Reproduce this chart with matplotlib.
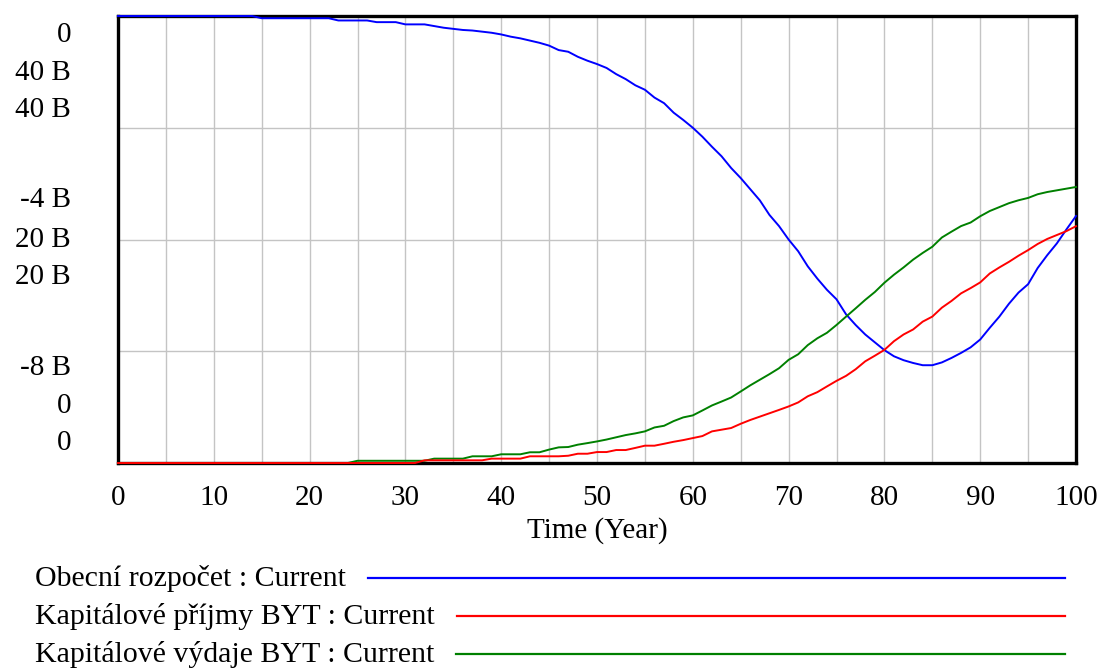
import matplotlib
matplotlib.use("Agg")
import matplotlib.pyplot as plt
from matplotlib.lines import Line2D
import numpy as np

plt.rcParams["font.family"] = ["Liberation Serif", "DejaVu Serif"]

# Simulation years
years = list(range(0, 101))

# Obecní rozpočet (billions)
budget = ([0.0] * 15 + [-0.04] * 8 + [-0.08] * 4 + [-0.11] * 3 + [-0.15] * 3 + [
    -0.18, -0.21, -0.23, -0.25, -0.26, -0.28, -0.30, -0.33, -0.37, -0.40,
    -0.44, -0.48, -0.53, -0.61, -0.64, -0.73, -0.80, -0.86, -0.93, -1.04,
    -1.13, -1.24, -1.32, -1.46, -1.56, -1.73, -1.86, -2.00, -2.16, -2.34,
    -2.51, -2.72, -2.90, -3.10, -3.30, -3.56, -3.76, -4.00, -4.21, -4.48,
    -4.70, -4.90, -5.07, -5.34, -5.53, -5.70, -5.84, -5.98, -6.09, -6.16,
    -6.21, -6.25, -6.25, -6.20, -6.12, -6.03, -5.93, -5.79, -5.58, -5.38,
    -5.15, -4.95, -4.80, -4.51, -4.28, -4.07, -3.82, -3.58])

# Kapitálové příjmy BYT (billions)
income = ([0.0] * 32 + [0.24] * 7 + [0.39] * 4 + [0.6] * 4 + [
    0.65, 0.83, 0.83, 0.98, 0.98, 1.16, 1.16, 1.35, 1.55, 1.55,
    1.72, 1.90, 2.05, 2.23, 2.41, 2.83, 2.98, 3.13, 3.51, 3.85,
    4.15, 4.45, 4.75, 5.06, 5.42, 5.97, 6.34, 6.85, 7.35, 7.80,
    8.39, 9.10, 9.60, 10.12, 10.90, 11.50, 11.95, 12.65, 13.10, 13.90,
    14.50, 15.18, 15.65, 16.16, 16.96, 17.50, 18.00, 18.55, 19.05, 19.60,
    20.05, 20.40, 20.75, 21.19])

# Kapitálové výdaje BYT (billions)
expenses = ([0.0] * 25 + [0.2] * 8 + [0.39] * 4 + [0.6] * 3 + [0.78] * 3 + [0.96] * 2 + [
    1.20, 1.40, 1.43, 1.64, 1.78, 1.93, 2.10, 2.30, 2.50, 2.65,
    2.83, 3.18, 3.33, 3.75, 4.08, 4.26, 4.70, 5.15, 5.50, 5.86,
    6.40, 6.95, 7.45, 7.95, 8.48, 9.23, 9.73, 10.55, 11.16, 11.65,
    12.35, 13.10, 13.84, 14.60, 15.30, 16.13, 16.85, 17.50, 18.20, 18.80,
    19.35, 20.18, 20.70, 21.20, 21.52, 22.08, 22.55, 22.90, 23.25, 23.51,
    23.72, 24.05, 24.25, 24.40, 24.55, 24.70])

# Stacked Vensim-style axis labels (top, middle, bottom)
scale_labels = [["0", "40 B", "40 B"], ["-4 B", "20 B", "20 B"], ["-8 B", "0", "0"]]
x_ticks = list(range(0, 101, 10))
series_names = ["Obecní rozpočet : Current",
                "Kapitálové příjmy BYT : Current",
                "Kapitálové výdaje BYT : Current"]
colors = ["#0000ff", "#ff0000", "#008000"]

W, H = 1102, 670
fig = plt.figure(figsize=(W / 100, H / 100), dpi=100)
ax = fig.add_axes([118 / W, 1 - 463 / H, (1076 - 118) / W, (463 - 16) / H])
ax2 = ax.twinx()

ax.plot(years, budget, color=colors[0], lw=1.4, zorder=3, clip_on=False)
# green first so the red line sits on top along the zero line
ax2.plot(years, expenses, color=colors[2], lw=1.4, zorder=3, clip_on=False)
ax2.plot(years, income, color=colors[1], lw=1.4, zorder=3, clip_on=False)

ax.set_xlim(0, 100)
ax.set_ylim(-8, 0)
ax2.set_ylim(0, 40)

ax.set_xticks(np.arange(0, 101, 5), minor=True)
ax.set_xticks(x_ticks)
ax.set_xticklabels([str(t) for t in x_ticks], fontsize=21)
ax.set_yticks([-8, -6, -4, -2, 0])
ax.set_yticklabels([])
ax.grid(True, which="both", color="#c4c4c4", lw=1)
ax.tick_params(axis="both", which="both", length=0)
ax.tick_params(axis="x", pad=16)
ax2.set_yticks([])
ax.set_xlabel("Time (Year)", fontsize=21, labelpad=4)

for s in ax.spines.values():
    s.set_linewidth(2.4)
    s.set_color("black")
for s in ax2.spines.values():
    s.set_visible(False)
ax2.patch.set_visible(False)
ax.set_axisbelow(True)

# Stacked labels on the left
label_rows = [[35, 73, 110], [200, 240, 277], [368, 406, 443]]
for group, rows in zip(scale_labels, label_rows):
    for txt, yp in zip(group, rows):
        fig.text(71 / W, 1 - yp / H, txt, ha="right", va="center", fontsize=21)

# Legend below the chart
legend_y = [578, 616, 654]
fig.canvas.draw()
renderer = fig.canvas.get_renderer()
for name, col, yp in zip(series_names, colors, legend_y):
    t = fig.text(35 / W, 1 - yp / H, name, ha="left", va="center", fontsize=21.5)
    bb = t.get_window_extent(renderer)
    x0 = bb.x1 / W + 22 / W
    fig.add_artist(Line2D([x0, 1065 / W], [1 - yp / H, 1 - yp / H],
                          color=col, lw=1.6, transform=fig.transFigure))

fig.savefig("out.png", dpi=100)
